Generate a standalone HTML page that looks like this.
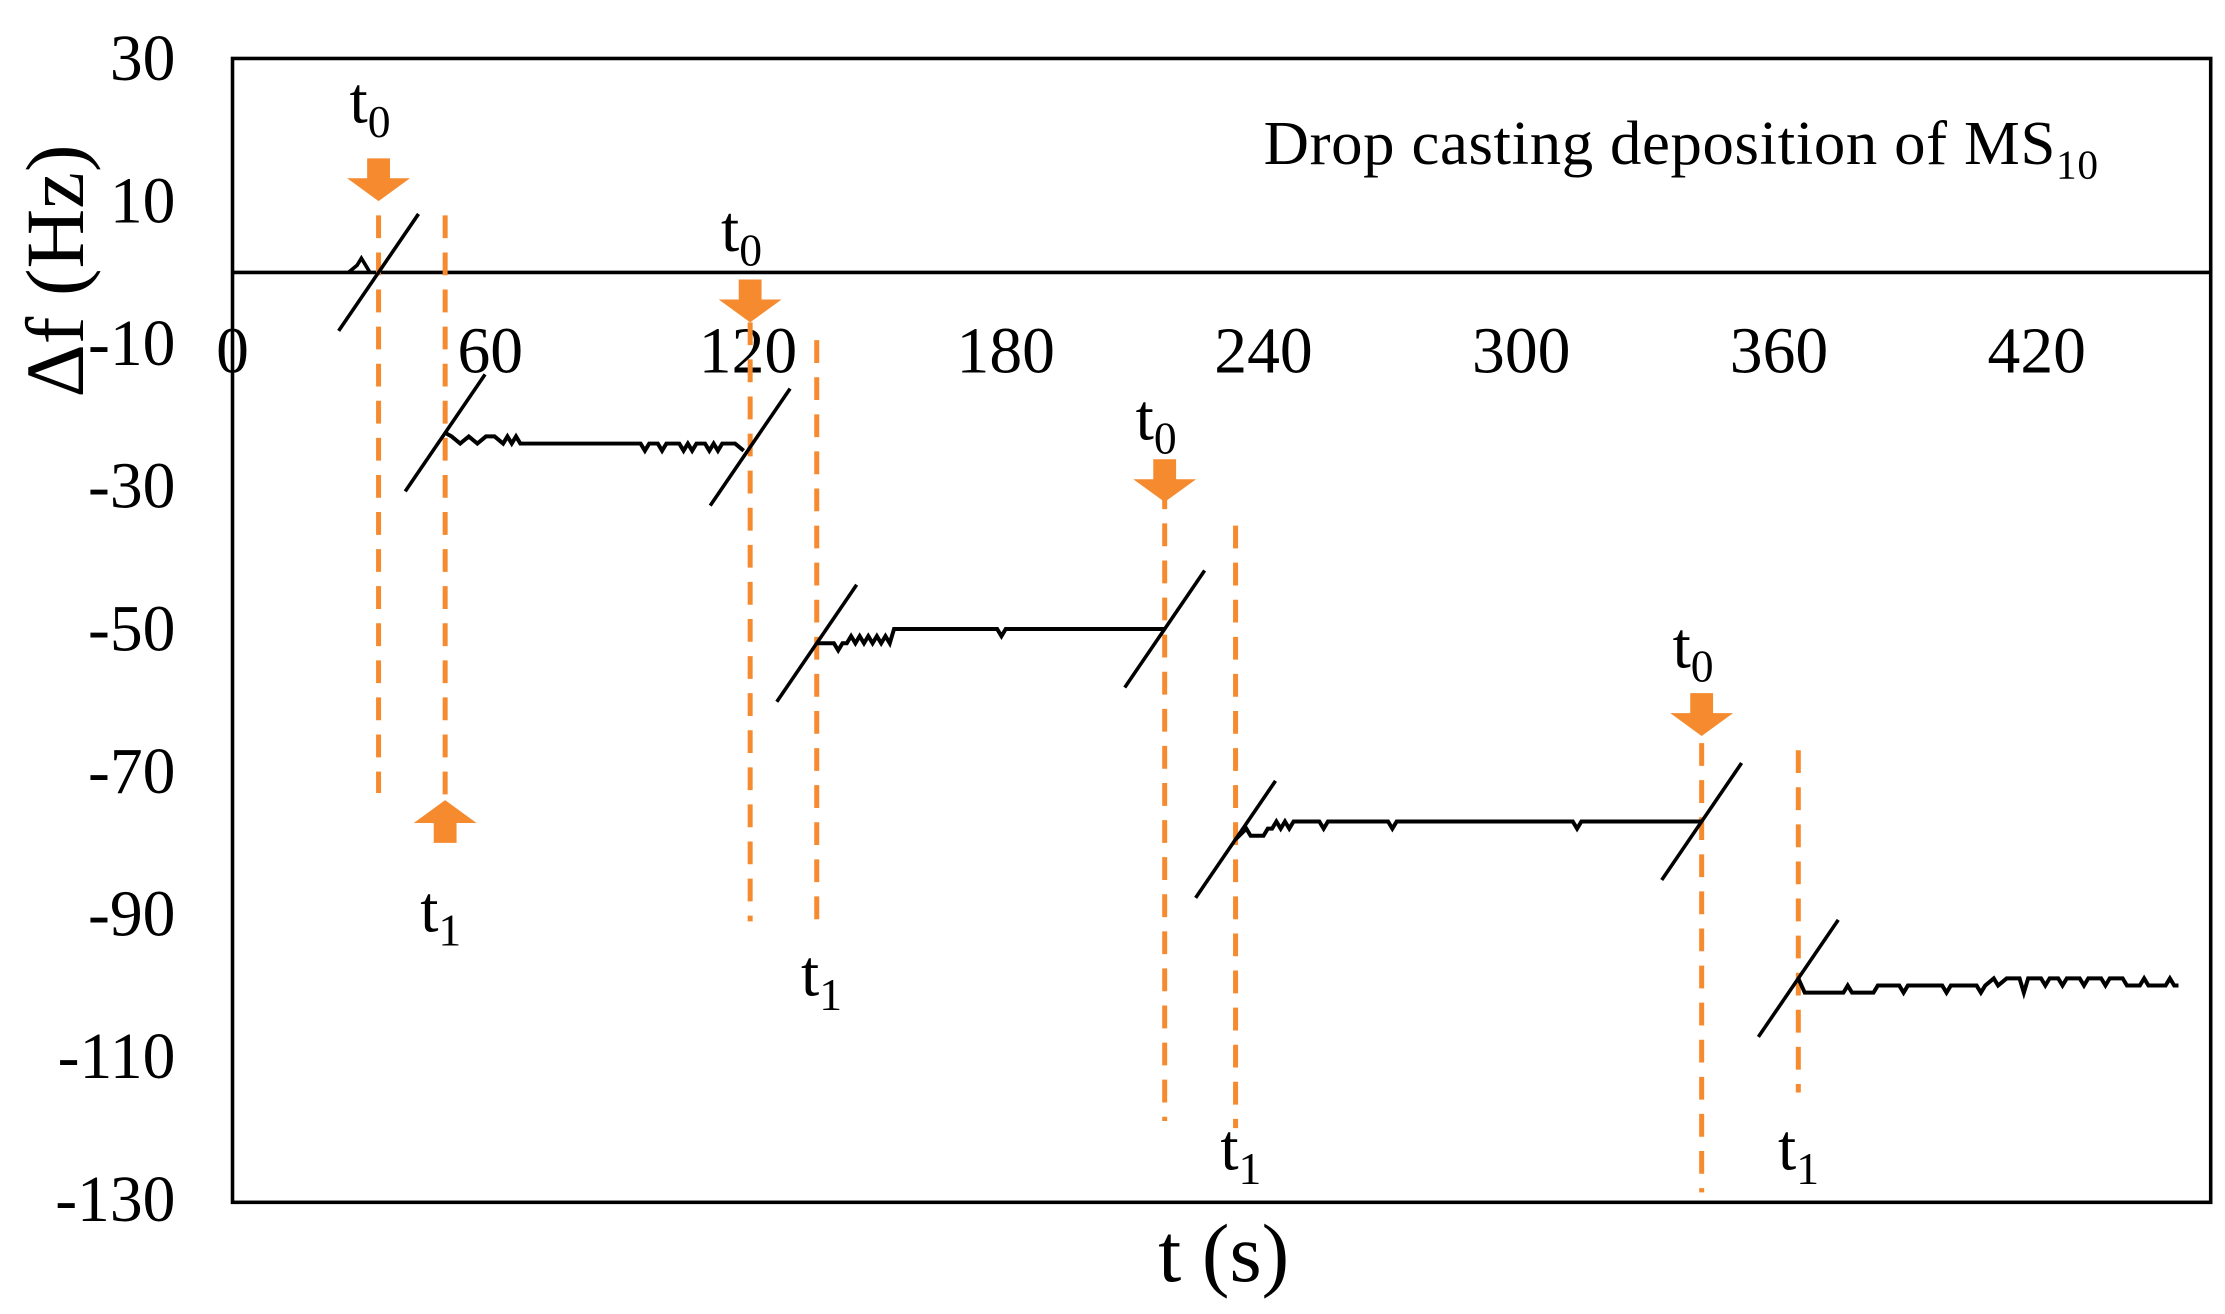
<!DOCTYPE html>
<html><head><meta charset="utf-8"><style>
html,body{margin:0;padding:0;background:#fff}
svg{display:block}
text{font-family:"Liberation Serif","DejaVu Serif",serif;fill:#000}
</style></head><body>
<svg id="chart" width="2225" height="1314" viewBox="0 0 1560 921.3" xmlns="http://www.w3.org/2000/svg">
<rect x="0" y="0" width="1560" height="921.3" fill="#fff"/>
<g id="plot"></g>
</svg>
<script>
// ---- data ----
const xTicks=[0,60,120,180,240,300,360,420];
const yTicks=[30,10,-10,-30,-50,-70,-90,-110,-130];
const plateau1=[[49.5,-22.5],[51,-23],[53,-24],[55,-23],[57,-24],[59,-23],[61,-23],[63,-24],[64,-23],[65,-24],[66,-23],[67,-24],[68,-24],[95,-24],[96,-25],[97,-24],[99,-24],[100,-25],[101,-24],[104,-24],[105,-25],[106,-24],[107,-25],[108,-24],[110,-24],[111,-25],[112,-24],[113,-25],[114,-24],[117,-24],[119,-25]];
const plateau2=[[136,-52],[140,-52],[141,-53],[142,-52],[143,-52],[144,-51],[145,-52],[146,-51],[147,-52],[148,-51],[149,-52],[150,-51],[151,-52],[152,-51],[153,-52],[154,-50],[178,-50],[179,-51],[180,-50],[217,-50]];
const plateau3=[[233.5,-79.5],[236,-78],[237,-79],[240,-79],[241,-78],[242,-78],[243,-77],[244,-78],[245,-77],[246,-78],[247,-77],[249,-77],[253,-77],[254,-78],[255,-77],[269,-77],[270,-78],[271,-77],[312,-77],[313,-78],[314,-77],[342,-77]];
const plateau4=[[364.5,-99],[366,-101],[375,-101],[376,-100],[377,-101],[382,-101],[383,-100],[388,-100],[389,-101],[390,-100],[398,-100],[399,-101],[400,-100],[406,-100],[407,-101],[408,-100],[410,-99],[411,-100],[413,-99],[416,-99],[417,-101],[418,-99],[421,-99],[422,-100],[423,-99],[425,-99],[426,-100],[427,-99],[430,-99],[431,-100],[432,-99],[435,-99],[436,-100],[437,-99],[440,-99],[441,-100],[444,-100],[445,-99],[446,-100],[450,-100],[451,-99],[452,-100],[453,-100]];
const t0Times=[34,120.5,217,342];
const t1Times=[49.5,136,233.5,364.5];
const t0Levels=[0,-24.5,-50,-77];
const t1Levels=[-22.5,-52,-79.5,-99];
const t0DashTop=[8,-7,-30,-66];
const t0DashBottom=[-73,-91,-119,-129];
const t1DashTop=[8,-9.5,-35.5,-67];
const t1DashBottom=[-74,-91,-120,-115];

// ---- axes ----
const X0=163,X1=1550,Y0=41,Y1=843;
const xs=t=>X0+t*(X1-X0)/460.5;
const ys=v=>191-5*v;
const NS="http://www.w3.org/2000/svg";
const g=document.getElementById('plot');
function mk(tag,attrs,parent){const e=document.createElementNS(NS,tag);for(const k in attrs)e.setAttribute(k,attrs[k]);(parent||g).appendChild(e);return e;}

const frame=mk('rect',{x:X0,y:Y0,width:X1-X0,height:Y1-Y0,fill:'none',stroke:'#000','stroke-width':2.5});


const zl=mk('line',{x1:X0,x2:X1,y1:ys(0),y2:ys(0),stroke:'#000','stroke-width':2.5});



xTicks.forEach(t=>{const e=mk('text',{x:xs(t),y:261,'font-size':46,'text-anchor':'middle'});e.textContent=t;

});
yTicks.forEach(v=>{const e=mk('text',{x:123,y:ys(v)+15,'font-size':46,'text-anchor':'end'});e.textContent=v;

});

const xt=mk('text',{x:858,y:898,'font-size':58,'text-anchor':'middle'});xt.textContent='t (s)';


const yt=mk('text',{x:0,y:0,'font-size':58,'text-anchor':'middle',transform:'translate(58,190) rotate(-90)'});yt.textContent='Δf (Hz)';


const ann=mk('text',{x:886,y:115,'font-size':44,textLength:585});ann.innerHTML='Drop casting deposition of MS<tspan font-size="29" dy="10">10</tspan>';



// dashed lines
const OR='#f58a2e';
function dash(t,a,b,name){const l=mk('line',{x1:xs(t),x2:xs(t),y1:ys(a),y2:ys(b),stroke:OR,'stroke-width':3.5,'stroke-dasharray':'16,10'});

}
t0Times.forEach((t,i)=>dash(t,t0DashTop[i],t0DashBottom[i],'t0-dashed-line'));
t1Times.forEach((t,i)=>dash(t,t1DashTop[i],t1DashBottom[i],'t1-dashed-line'));

// plateaus
[plateau1,plateau2,plateau3,plateau4].forEach((p,i)=>{
 const pl=mk('polyline',{points:p.map(d=>xs(d[0])+','+ys(d[1])).join(' '),fill:'none',stroke:'#000','stroke-width':2.8});
 
 
});
const bump=mk('polyline',{points:[[27,0],[29,1],[30,2],[31,1],[32,0]].map(d=>xs(d[0])+','+ys(d[1])).join(' '),fill:'none',stroke:'#000','stroke-width':2.5});



// break slashes
function slash(t,v){const cx=xs(t),cy=ys(v);const l=mk('line',{x1:cx-28,y1:cy+41,x2:cx+28,y2:cy-41,stroke:'#000','stroke-width':2.5});

}
t0Times.forEach((t,i)=>slash(t,t0Levels[i]));
t1Times.forEach((t,i)=>slash(t,t1Levels[i]));

// arrows and labels
function arrow(cx,tipY,down,name){const d=down?1:-1;const s=tipY-d*30;
const p=mk('polygon',{points:[[cx-8,s],[cx+8,s],[cx+8,s+d*14],[cx+22,s+d*14],[cx,tipY],[cx-22,s+d*14],[cx-8,s+d*14]].map(q=>q.join(',')).join(' '),fill:OR});

}
function tlab(x,y,sub,name){const e=mk('text',{x:x,y:y,'font-size':46,'text-anchor':'middle'});e.innerHTML='t<tspan font-size="32" dy="10">'+sub+'</tspan>';

}
const t0ArrowTip=[141,226,352,516];
const t0LabelY=[86,176,308,468];
t0Times.forEach((t,i)=>{arrow(xs(t),t0ArrowTip[i],true,'t0-arrow');tlab(xs(t)-6,t0LabelY[i],'0','t0-label');});
arrow(xs(t1Times[0]),561,false,'t1-arrow');
const t1LabelX=[315,582,876,1267];
const t1LabelY=[653,698,820,820];
t1LabelX.forEach((x,i)=>tlab(x-6,t1LabelY[i],'1','t1-label'));
</script>
</body></html>
